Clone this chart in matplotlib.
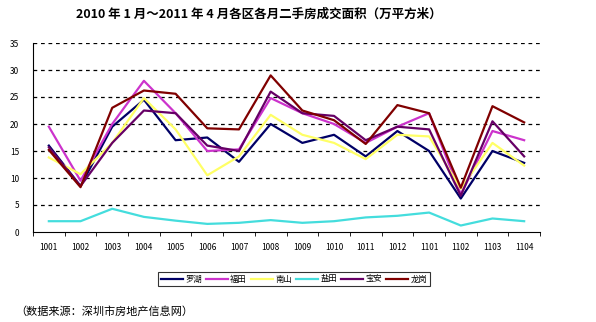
import matplotlib.pyplot as plt
import numpy as np

plt.rcParams['font.family'] = ['Noto Sans CJK SC', 'DejaVu Sans']

months = ['1001', '1002', '1003', '1004', '1005', '1006', '1007', '1008',
          '1009', '1010', '1011', '1012', '1101', '1102', '1103', '1104']

luohu = [16, 8.5, 19.5, 24.5, 17, 17.5, 13, 20, 16.5, 18, 14, 18.7, 15, 6.2, 15, 12.8]
futian = [19.5, 9.5, 20, 28, 22, 15, 15.3, 24.8, 22, 20, 16.5, 19.5, 22, 7, 18.7, 17]
nanshan = [13.8, 10.7, 16.5, 24.8, 19, 10.5, 14, 21.7, 18, 16.5, 13.5, 18, 17.7, 8, 16.5, 12.3]
yantian = [2, 2, 4.3, 2.8, 2.1, 1.5, 1.7, 2.2, 1.7, 2, 2.7, 3, 3.6, 1.2, 2.5, 2]
baoan = [15.7, 8.5, 16.5, 22.5, 22, 16, 15, 26, 22, 21.5, 17, 19.5, 19, 6.7, 20.5, 14]
longgang = [15.2, 8.3, 23, 26.2, 25.6, 19.2, 19, 29, 22.5, 20.7, 16.3, 23.5, 22, 8.2, 23.3, 20.3]

names = ['罗湖', '福田', '南山', '盐田', '宝安', '龙岗']
series = [luohu, futian, nanshan, yantian, baoan, longgang]
colors = ['#000066', '#CC33CC', '#FFFF66', '#44DDDD', '#660066', '#800000']

fig = plt.figure(figsize=(5.96, 3.22), dpi=100)
ax = fig.add_axes([33 / 596, 90 / 322, 507 / 596, 189 / 322])

x = np.arange(len(months))
for s, c, n in zip(series, colors, names):
    ax.plot(x, s, color=c, lw=1.6, label=n)

ax.set_xlim(-0.5, len(months) - 0.5)
ax.set_ylim(0, 35)
ax.set_yticks(range(0, 36, 5))
ax.set_xticks(x)
ax.set_xticklabels(months)
ax.set_xticks(np.arange(-0.5, len(months), 1), minor=True)
ax.tick_params(axis='x', which='major', length=0, labelsize=6, pad=8)
ax.tick_params(axis='x', which='minor', length=3, direction='out')
ax.tick_params(axis='y', length=0, labelsize=6, pad=10)
for v in range(5, 36, 5):
    ax.axhline(v, color='black', lw=0.9, ls=(0, (3, 3)), zorder=0)
for sp in ['top', 'right']:
    ax.spines[sp].set_visible(False)

fig.text(259 / 596, 1 - 14 / 322, '2010 年 1 月～2011 年 4 月各区各月二手房成交面积（万平方米）',
         ha='center', va='center', fontsize=9, fontweight='bold')

leg = fig.legend(loc='center', bbox_to_anchor=(294 / 596, 1 - 279 / 322), ncol=6,
                 fontsize=6, frameon=True, fancybox=False, handlelength=2.6,
                 handletextpad=0.3, columnspacing=0.5, borderpad=0.3)
leg.get_frame().set_edgecolor('black')
leg.get_frame().set_linewidth(0.8)

fig.text(15 / 596, 1 - 312 / 322, '（数据来源：深圳市房地产信息网）', ha='left', va='center', fontsize=8)

fig.savefig('out.png', dpi=100)
